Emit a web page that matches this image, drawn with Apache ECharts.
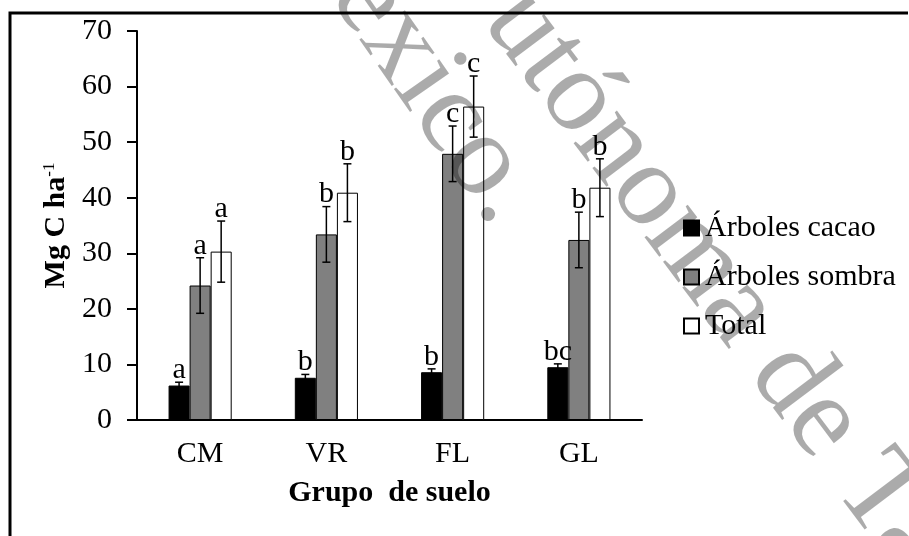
<!DOCTYPE html>
<html>
<head>
<meta charset="utf-8">
<script src="https://cdn.jsdelivr.net/npm/echarts@6/dist/echarts.min.js"></script>
<style>
html,body{margin:0;padding:0;background:#fff;}
#chart{width:909px;height:536px;}
</style>
</head>
<body>
<div id="chart"></div>
<script>
// ---- data ----
const categories = ['CM', 'VR', 'FL', 'GL'];
const seriesNames = ['Árboles cacao', 'Árboles sombra', 'Total'];
const cacao = [6.2, 7.6, 8.6, 9.5];
const cacaoErr = [0.6, 0.6, 0.6, 0.6];
const sombra = [24.2, 33.4, 47.9, 32.4];
const sombraErr = [5.0, 5.0, 5.0, 5.0];
const total = [30.3, 40.9, 56.4, 41.8];
const totalErr = [5.5, 5.2, 5.5, 5.2];
const cacaoLetters = ['a', 'b', 'b', 'bc'];
const sombraLetters = ['a', 'b', 'c', 'b'];
const totalLetters = ['a', 'b', 'c', 'b'];
const yTicks = { min: 0, max: 70, interval: 10 };
const watermarkTexts = ['exico.', 'utónoma de Tabasco'];

const FONT = '"Liberation Serif", "Times New Roman", serif';
const chart = echarts.init(document.getElementById('chart'), null, { renderer: 'canvas' });

function barSeries(name, values, color) {
  return {
    name: name,
    type: 'bar',
    data: values,
    barGap: '0%',
    barCategoryGap: '50%',
    itemStyle: { color: color, borderColor: '#000', borderWidth: 1 },
    z: 2
  };
}

function errSeries(idx, values, errs, letters) {
  return {
    name: seriesNames[idx] + ' error',
    type: 'custom',
    data: values.map((v, i) => [i, v, errs[i]]),
    encode: { x: 0, y: 1 },
    z: 5,
    silent: true,
    renderItem: function (params, api) {
      const cat = api.value(0);
      const v = api.value(1);
      const e = api.value(2);
      const letter = letters[params.dataIndex];
      const band = api.size([1, 0])[0];
      const bw = band * 0.5 / 3;
      const base = api.coord([cat, v]);
      const x = base[0] + (idx - 1) * bw;
      const yTop = api.coord([cat, v + e])[1];
      const yBot = api.coord([cat, v - e])[1];
      const cap = 4;
      const ls = { stroke: '#000', lineWidth: 1.5 };
      return {
        type: 'group',
        children: [
          { type: 'line', shape: { x1: x, y1: yTop, x2: x, y2: yBot }, style: ls },
          { type: 'line', shape: { x1: x - cap, y1: yTop, x2: x + cap, y2: yTop }, style: ls },
          { type: 'line', shape: { x1: x - cap, y1: yBot, x2: x + cap, y2: yBot }, style: ls },
          {
            type: 'text',
            style: {
              text: letter, x: x, y: yTop + 3,
              textAlign: 'center', textVerticalAlign: 'bottom',
              font: '30px ' + FONT, fill: '#000'
            }
          }
        ]
      };
    }
  };
}

function wm(text, x, y, deg) {
  return {
    type: 'text',
    x: x, y: y,
    rotation: -deg * Math.PI / 180,
    z: 100,
    silent: true,
    style: {
      text: text,
      font: '118px ' + FONT,
      fill: 'rgba(0,0,0,0.33)',
      textAlign: 'left',
      textVerticalAlign: 'middle'
    }
  };
}

const option = {
  animation: false,
  backgroundColor: '#fff',
  textStyle: { fontFamily: FONT, color: '#000' },
  grid: { left: 137, right: 267, top: 31, bottom: 116, containLabel: false },
  legend: {
    orient: 'vertical',
    left: 683,
    top: 213,
    padding: 0,
    itemWidth: 15,
    itemHeight: 15,
    itemGap: 19,
    icon: 'rect',
    data: seriesNames,
    textStyle: { fontFamily: FONT, fontSize: 30, color: '#000', padding: [0, 0, 0, 1] }
  },
  xAxis: {
    type: 'category',
    data: categories,
    name: 'Grupo  de suelo',
    nameLocation: 'middle',
    nameGap: 58,
    nameTextStyle: { fontFamily: FONT, fontSize: 30, fontWeight: 'bold', color: '#000' },
    axisLine: { show: true, lineStyle: { color: '#000', width: 2 } },
    axisTick: { show: false },
    axisLabel: { fontFamily: FONT, fontSize: 30, color: '#000', margin: 19 },
    splitLine: { show: false }
  },
  yAxis: {
    type: 'value',
    min: yTicks.min,
    max: yTicks.max,
    interval: yTicks.interval,
    name: 'Mg C ha{sup|-1}',
    nameLocation: 'middle',
    nameGap: 60,
    nameRotate: 90,
    nameTextStyle: {
      fontFamily: FONT, fontSize: 30, fontWeight: 'bold', color: '#000',
      rich: {
        sup: { fontFamily: FONT, fontSize: 17, fontWeight: 'normal', color: '#000', verticalAlign: 'top', lineHeight: 30 }
      }
    },
    axisLine: { show: true, lineStyle: { color: '#000', width: 2 } },
    axisTick: { show: true, inside: false, length: 10, lineStyle: { color: '#000', width: 2 } },
    axisLabel: { fontFamily: FONT, fontSize: 30, color: '#000', margin: 25 },
    splitLine: { show: false }
  },
  graphic: [
    {
      type: 'polyline',
      silent: true,
      z: 50,
      shape: { points: [[10, 540], [10, 13], [908, 13]] },
      style: { stroke: '#000', lineWidth: 3, fill: null }
    },
    wm(watermarkTexts[0], 354, -22, 55),
    wm(watermarkTexts[1], 506, 2, 53)
  ],
  series: [
    barSeries(seriesNames[0], cacao, '#000000'),
    barSeries(seriesNames[1], sombra, '#808080'),
    barSeries(seriesNames[2], total, '#ffffff'),
    errSeries(0, cacao, cacaoErr, cacaoLetters),
    errSeries(1, sombra, sombraErr, sombraLetters),
    errSeries(2, total, totalErr, totalLetters)
  ]
};
chart.setOption(option);
</script>
</body>
</html>
